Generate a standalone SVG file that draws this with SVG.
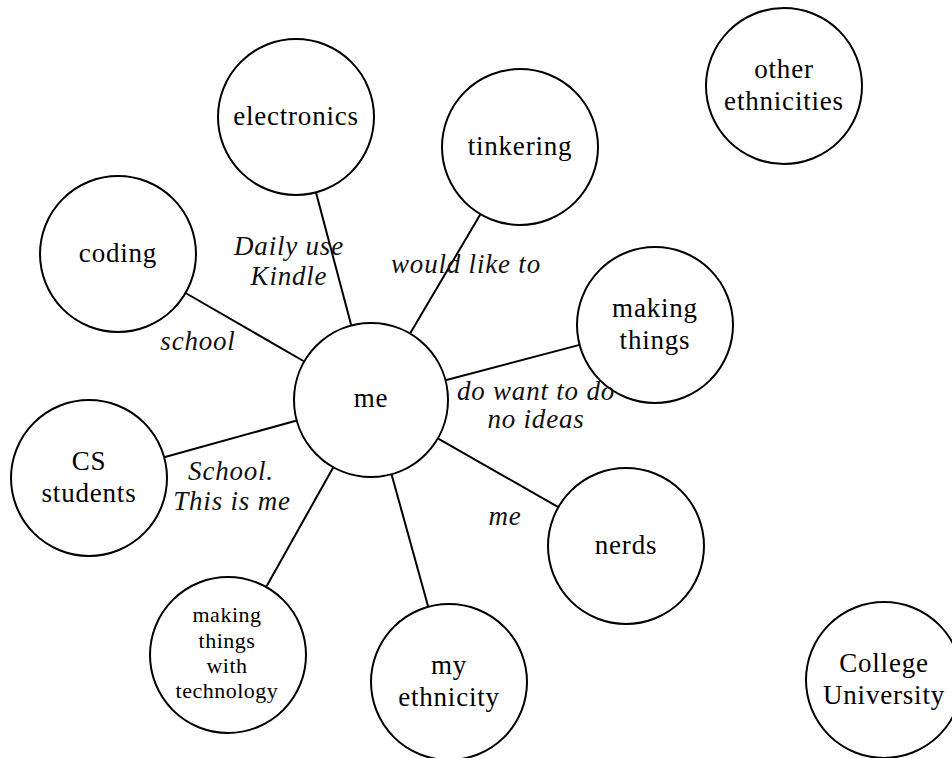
<svg xmlns="http://www.w3.org/2000/svg" width="952" height="758" viewBox="0 0 952 758">
  <style>
    .node circle { fill: #fff; stroke: #000; stroke-width: 2; }
    .node text { font-family: "Liberation Serif", "Times New Roman", serif; font-size: 27px; letter-spacing: 0.8px; fill: #000; text-anchor: middle; }
    .node text.small { font-size: 22px; letter-spacing: 0.5px; }
    .edges line { stroke: #000; stroke-width: 2; }
    .elabel { font-family: "Liberation Serif", "Times New Roman", serif; font-style: italic; font-size: 27px; letter-spacing: 0.8px; fill: #111; text-anchor: middle; }
  </style>
  <rect width="952" height="758" fill="#fff"/>

  <!-- connectors from the centre node -->
  <g id="edges" class="edges">
    <line x1="351.3" y1="325.6" x2="316.0" y2="192.4"/>
    <line x1="410.1" y1="333.6" x2="480.4" y2="214.2"/>
    <line x1="304.3" y1="361.5" x2="185.6" y2="293.0"/>
    <line x1="445.5" y1="380.3" x2="579.6" y2="344.9"/>
    <line x1="296.8" y1="420.5" x2="164.2" y2="457.2"/>
    <line x1="437.8" y1="438.3" x2="558.3" y2="507.2"/>
    <line x1="333.3" y1="467.2" x2="266.2" y2="587.0"/>
    <line x1="391.5" y1="474.2" x2="428.2" y2="606.8"/>
  </g>

  <g id="node-me" class="node">
    <circle cx="371" cy="400" r="77"/>
    <text x="371" y="407">me</text>
  </g>
  <g id="node-electronics" class="node">
    <circle cx="296" cy="117" r="78"/>
    <text x="296" y="125">electronics</text>
  </g>
  <g id="node-tinkering" class="node">
    <circle cx="520" cy="147" r="78"/>
    <text x="520" y="155">tinkering</text>
  </g>
  <g id="node-other-ethnicities" class="node">
    <circle cx="784" cy="86" r="78"/>
    <text x="784" y="78">other</text>
    <text x="784" y="110">ethnicities</text>
  </g>
  <g id="node-coding" class="node">
    <circle cx="118" cy="254" r="78"/>
    <text x="118" y="262">coding</text>
  </g>
  <g id="node-making-things" class="node">
    <circle cx="655" cy="325" r="78"/>
    <text x="655" y="317">making</text>
    <text x="655" y="349">things</text>
  </g>
  <g id="node-cs-students" class="node">
    <circle cx="89" cy="478" r="78"/>
    <text x="89" y="470">CS</text>
    <text x="89" y="502">students</text>
  </g>
  <g id="node-nerds" class="node">
    <circle cx="626" cy="546" r="78"/>
    <text x="626" y="554">nerds</text>
  </g>
  <g id="node-making-with-tech" class="node">
    <circle cx="228" cy="655" r="78"/>
    <text class="small" x="227" y="622">making</text>
    <text class="small" x="227" y="647.5">things</text>
    <text class="small" x="227" y="673">with</text>
    <text class="small" x="227" y="698">technology</text>
  </g>
  <g id="node-my-ethnicity" class="node">
    <circle cx="449" cy="682" r="78"/>
    <text x="449" y="674">my</text>
    <text x="449" y="706">ethnicity</text>
  </g>
  <g id="node-college" class="node">
    <circle cx="884" cy="680" r="78"/>
    <text x="884" y="672">College</text>
    <text x="884" y="704">University</text>
  </g>

  <!-- connector labels -->
  <g id="edge-labels">
    <text class="elabel" x="289" y="255">Daily use</text>
    <text class="elabel" x="289" y="285">Kindle</text>
    <text class="elabel" x="466" y="273">would like to</text>
    <text class="elabel" x="198" y="350">school</text>
    <text class="elabel" x="536" y="400">do want to do</text>
    <text class="elabel" x="536" y="428">no ideas</text>
    <text class="elabel" x="231" y="480">School.</text>
    <text class="elabel" x="232" y="510">This is me</text>
    <text class="elabel" x="505" y="525">me</text>
  </g>
</svg>
